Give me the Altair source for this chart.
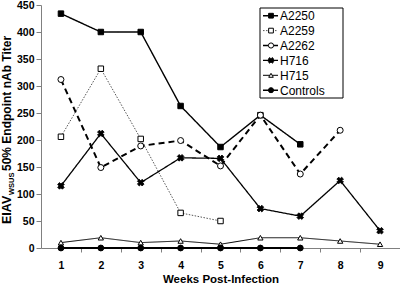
import altair as alt
import pandas as pd

weeks = [1, 2, 3, 4, 5, 6, 7, 8, 9]
a2250 = [434, 400, 400, 263, 187, 246, 192]
a2259 = [206, 332, 202, 65, 50]
a2262 = [312, 149, 189, 199, 152, 246, 137, 218]
h716 = [115, 212, 121, 167, 166, 73, 59, 125, 32]
h715 = [10, 19, 10, 13, 7, 19, 19, 13, 7]
controls = [0, 0, 0, 0, 0, 0, 0]

series_names = ["A2250", "A2259", "A2262", "H716", "H715", "Controls"]
series_values = [a2250, a2259, a2262, h716, h715, controls]
y_ticks = [0, 50, 100, 150, 200, 250, 300, 350, 400, 450]

# styles per series: (line color, width, dash, shape, filled, size, angle)
styles = {
    "A2250": ("#000000", 1.4, [1, 0], "square", True, 30, 0),
    "A2259": ("#555555", 1.0, [1.5, 1.5], "square", False, 30, 0),
    "A2262": ("#000000", 2.0, [6, 4], "circle", False, 36, 0),
    "H716": ("#000000", 1.3, [1, 0], "cross", True, 45, 45),
    "H715": ("#000000", 1.0, [1, 0], "triangle-up", False, 28, 0),
    "Controls": ("#000000", 2.2, [1, 0], "circle", True, 34, 0),
}

W, H = 359, 243
FONT = "Liberation Sans"
HALF = W / 9 / 2

xscale = alt.Scale(domain=[0.5, 9.5], nice=False, zero=False)
yscale = alt.Scale(domain=[0, 450], nice=False)

xaxis = alt.Axis(
    values=weeks,
    title="Weeks Post-Infection",
    tickOffset=HALF,
    labelOffset=-HALF,
    tickSize=4,
    domainColor="#808080",
    tickColor="#808080",
    labelFont=FONT,
    labelFontWeight="bold",
    labelFontSize=10.5,
    labelColor="#000000",
    labelPadding=8,
    titleFont=FONT,
    titleFontWeight="bold",
    titleFontSize=11.5,
    titleColor="#000000",
    titlePadding=3,
    grid=False,
    labelFlush=False,
)
yaxis = alt.Axis(
    values=y_ticks,
    title=None,
    tickSize=5,
    domainColor="#808080",
    tickColor="#808080",
    labelFont=FONT,
    labelFontWeight="bold",
    labelFontSize=10.5,
    labelColor="#000000",
    labelPadding=2,
    grid=False,
    labelFlush=False,
)

layers = []
for name, vals in zip(series_names, series_values):
    df = pd.DataFrame({"week": weeks[: len(vals)], "titer": vals, "series": name})
    color, sw, dash, shape, filled, size, ang = styles[name]
    xenc = alt.X("week:Q", scale=xscale, axis=xaxis)
    yenc = alt.Y("titer:Q", scale=yscale, axis=yaxis)
    line = alt.Chart(df).mark_line(
        color=color, strokeWidth=sw, strokeDash=dash
    ).encode(x=xenc, y=yenc)
    pt = alt.Chart(df).mark_point(
        shape=shape,
        filled=filled,
        fill="#000000" if filled else "#ffffff",
        stroke="#000000",
        strokeWidth=1.0 if shape != "cross" else 0.8,
        size=size,
        angle=ang,
        opacity=1,
    ).encode(x=xenc, y=yenc)
    layers += [line, pt]

# y-axis title with subscript, built from text marks
ytitle_parts = [("EIAV", 12.5, -30, 219), ("WSUS", 7.5, -27, 190), (" 50% Endpoint nAb Titer", 12, -30, 166)]
for txt, fs, xv, yv in ytitle_parts:
    layers.append(
        alt.Chart(pd.DataFrame({"t": [txt]})).mark_text(
            angle=270, align="left", baseline="alphabetic", font=FONT,
            fontWeight="bold", fontSize=fs, color="#000000",
        ).encode(x=alt.value(xv), y=alt.value(yv), text="t:N")
    )

# legend box
bx0, bx1, by0, by1 = 219, 302, 3, 93
layers.append(
    alt.Chart(pd.DataFrame({"a": [0]})).mark_rect(
        fill="#ffffff", stroke="#000000", strokeWidth=1
    ).encode(x=alt.value(bx0), x2=alt.value(bx1), y=alt.value(by0), y2=alt.value(by1))
)
for i, name in enumerate(series_names):
    color, sw, dash, shape, filled, size, ang = styles[name]
    yy = 10.7 + i * 14.9
    dfl = pd.DataFrame({"t": [name]})
    layers.append(
        alt.Chart(dfl).mark_rule(color=color, strokeWidth=min(sw, 1.6), strokeDash=dash if dash != [6, 4] else [1, 0]).encode(
            x=alt.value(222), x2=alt.value(237), y=alt.value(yy), y2=alt.value(yy)
        )
    )
    layers.append(
        alt.Chart(dfl).mark_point(
            shape=shape, filled=filled, fill="#000000" if filled else "#ffffff",
            stroke="#000000", strokeWidth=1.0 if shape != "cross" else 0.8,
            size=size * 0.75, angle=ang, opacity=1,
        ).encode(x=alt.value(230), y=alt.value(yy))
    )
    layers.append(
        alt.Chart(dfl).mark_text(
            align="left", baseline="middle", font=FONT, fontSize=12, color="#000000"
        ).encode(x=alt.value(239), y=alt.value(yy + 0.5), text="t:N")
    )

chart = (
    alt.layer(*layers)
    .properties(
        width=W,
        height=H,
        autosize=alt.AutoSizeParams(type="none"),
        padding={"left": 41, "top": 5, "right": 0, "bottom": 36},
        background="#ffffff",
    )
    .configure_view(stroke=None)
)

chart.save("out.html", embed_options={"renderer": "svg", "actions": False})
